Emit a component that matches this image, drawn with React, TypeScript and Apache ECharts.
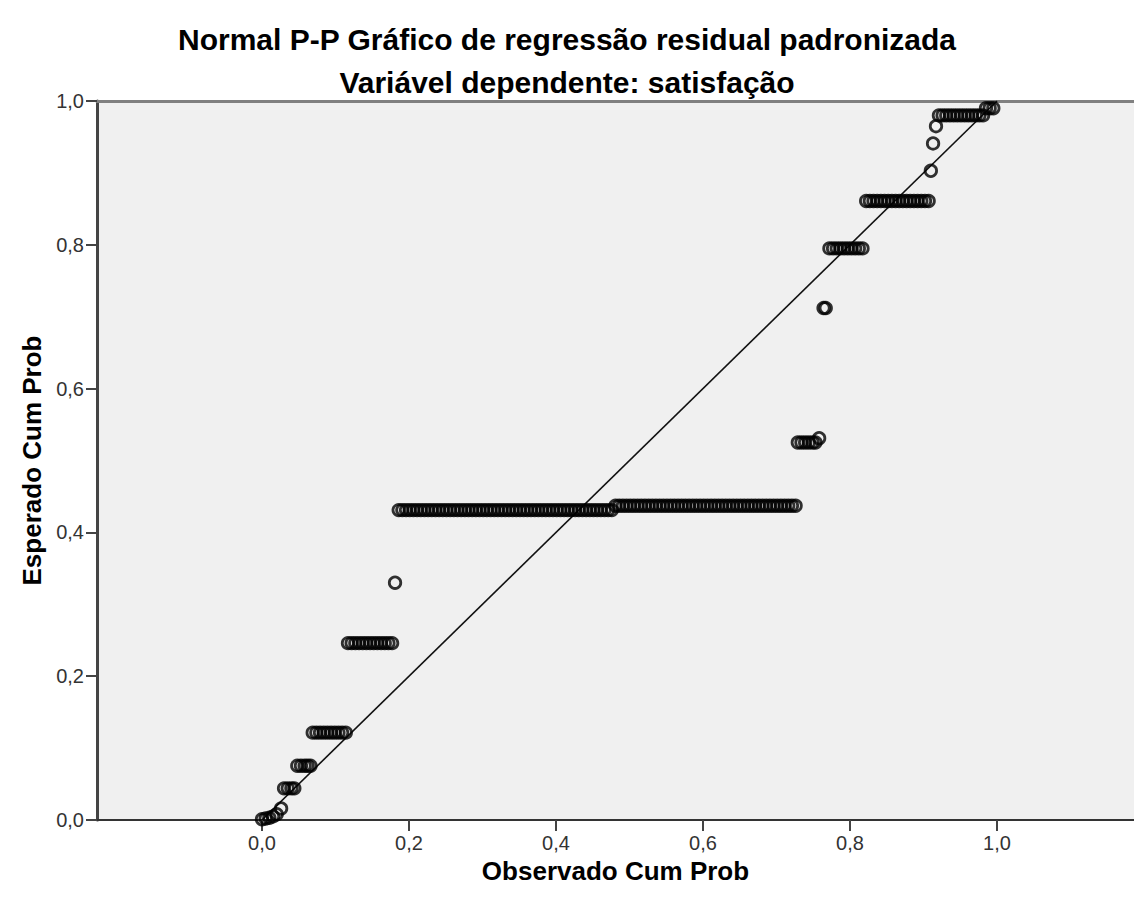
import React, { useEffect, useRef } from "react";
import * as echarts from "echarts";

const titleText = "Normal P-P Gráfico de regressão residual padronizada";
const subtitleText = "Variável dependente: satisfação";
const xAxisTitle = "Observado Cum Prob";
const yAxisTitle = "Esperado Cum Prob";
const tickValues = [0, 0.2, 0.4, 0.6, 0.8, 1.0];

// Points near the origin: observed (x) and expected (y) cumulative probability
const nearZeroObserved = [0.0, 0.005, 0.01, 0.015, 0.02, 0.026];
const nearZeroExpected = [0.001, 0.002, 0.003, 0.005, 0.008, 0.016];

// Runs of cases sharing one expected cumulative probability (y),
// each with the observed cumulative probabilities (x) of its cases
const runExpected = [
  0.044, 0.0755, 0.1215, 0.246, 0.33, 0.431, 0.437, 0.525, 0.531, 0.712,
  0.795, 0.861, 0.903, 0.941, 0.965, 0.98, 0.99,
];
const runObserved = [
  [0.03, 0.035, 0.04, 0.044],
  [0.048, 0.053, 0.058, 0.062, 0.066],
  [0.069, 0.074, 0.079, 0.084, 0.089, 0.094, 0.099, 0.104, 0.109, 0.114],
  [0.117, 0.122, 0.127, 0.132, 0.137, 0.142, 0.147, 0.152, 0.157, 0.162, 0.167, 0.172, 0.177],
  [0.181],
  [
    0.186, 0.191, 0.196, 0.201, 0.206, 0.211, 0.216, 0.221, 0.226, 0.231, 0.236, 0.241,
    0.246, 0.251, 0.256, 0.261, 0.266, 0.271, 0.276, 0.281, 0.286, 0.291, 0.296, 0.301,
    0.306, 0.311, 0.316, 0.321, 0.326, 0.331, 0.336, 0.341, 0.346, 0.351, 0.356, 0.361,
    0.366, 0.371, 0.376, 0.381, 0.386, 0.391, 0.396, 0.401, 0.406, 0.411, 0.416, 0.421,
    0.426, 0.431, 0.436, 0.441, 0.446, 0.451, 0.456, 0.461, 0.466, 0.471, 0.476,
  ],
  [
    0.481, 0.486, 0.491, 0.496, 0.501, 0.506, 0.511, 0.516, 0.521, 0.526, 0.531, 0.536,
    0.541, 0.546, 0.551, 0.556, 0.561, 0.566, 0.571, 0.576, 0.581, 0.586, 0.591, 0.596,
    0.601, 0.606, 0.611, 0.616, 0.621, 0.626, 0.631, 0.636, 0.641, 0.646, 0.651, 0.656,
    0.661, 0.666, 0.671, 0.676, 0.681, 0.686, 0.691, 0.696, 0.701, 0.706, 0.711, 0.716,
    0.721, 0.726,
  ],
  [0.729, 0.734, 0.739, 0.744, 0.749, 0.753],
  [0.758],
  [0.764, 0.767],
  [0.772, 0.777, 0.782, 0.787, 0.792, 0.797, 0.802, 0.807, 0.812, 0.817],
  [
    0.822, 0.827, 0.832, 0.837, 0.842, 0.847, 0.852, 0.857, 0.862, 0.867, 0.872, 0.877,
    0.882, 0.887, 0.892, 0.897, 0.902, 0.907,
  ],
  [0.91],
  [0.913],
  [0.917],
  [0.921, 0.926, 0.931, 0.936, 0.941, 0.946, 0.951, 0.956, 0.961, 0.966, 0.971, 0.976, 0.981],
  [0.985, 0.99, 0.995],
];

const diagonal = [
  [0, 0],
  [1, 1],
];

const fmt = (v: number) => v.toFixed(1).replace(".", ",");
const FONT = "'Liberation Sans', Arial, sans-serif";

export default function App() {
  const ref = useRef<HTMLDivElement>(null);
  useEffect(() => {
    if (!ref.current) return;
    const chart = echarts.init(ref.current, undefined, { renderer: "svg" });
    const points: number[][] = nearZeroObserved.map((x, i) => [x, nearZeroExpected[i]]);
    runObserved.forEach((xs, r) => xs.forEach((x) => points.push([x, runExpected[r]])));
    chart.setOption({
      animation: false,
      backgroundColor: "#ffffff",
      textStyle: { fontFamily: FONT },
      title: [
        {
          text: titleText,
          left: "center",
          top: 19,
          textStyle: { fontFamily: FONT, fontSize: 30, fontWeight: "bold", color: "#000" },
        },
        {
          text: subtitleText,
          left: "center",
          top: 62,
          textStyle: { fontFamily: FONT, fontSize: 30, fontWeight: "bold", color: "#000" },
        },
      ],
      grid: {
        left: 97,
        right: 0,
        top: 101,
        bottom: 85,
        show: true,
        backgroundColor: "#f0f0f0",
        borderWidth: 0,
      },
      xAxis: [
        {
          type: "value",
          min: -0.22449,
          max: 1.18639,
          position: "bottom",
          name: xAxisTitle,
          nameLocation: "middle",
          nameGap: 19,
          nameTextStyle: { fontFamily: FONT, fontSize: 26, fontWeight: "bold", color: "#000" },
          axisLine: { show: true, onZero: false, lineStyle: { color: "#333", width: 2 } },
          axisTick: {
            show: true,
            length: 11,
            customValues: tickValues,
            lineStyle: { color: "#444", width: 2 },
          },
          axisLabel: {
            show: true,
            customValues: tickValues,
            formatter: (v: number) => fmt(v),
            margin: 13,
            fontFamily: FONT,
            fontSize: 20,
            color: "#333",
          },
          splitLine: { show: false },
        },
        {
          type: "value",
          min: -0.22449,
          max: 1.18639,
          position: "top",
          axisLine: { show: true, onZero: false, lineStyle: { color: "#808080", width: 3 } },
          axisTick: { show: false },
          axisLabel: { show: false },
          splitLine: { show: false },
        },
      ],
      yAxis: {
        type: "value",
        min: 0,
        max: 1,
        interval: 0.2,
        name: yAxisTitle,
        nameLocation: "middle",
        nameGap: 50,
        nameRotate: 90,
        nameTextStyle: { fontFamily: FONT, fontSize: 26, fontWeight: "bold", color: "#000" },
        axisLine: { show: true, onZero: false, lineStyle: { color: "#444", width: 3 } },
        axisTick: { show: true, length: 11, lineStyle: { color: "#444", width: 2 } },
        axisLabel: {
          formatter: (v: number) => fmt(v),
          margin: 13,
          fontFamily: FONT,
          fontSize: 20,
          color: "#333",
        },
        splitLine: { show: false },
      },
      series: [
        {
          type: "line",
          data: diagonal,
          symbol: "none",
          lineStyle: { color: "#111", width: 1.6 },
          z: 2,
        },
        {
          type: "scatter",
          data: points,
          symbol: "circle",
          symbolSize: 11.5,
          itemStyle: { color: "rgba(0,0,0,0)", borderColor: "#000", borderWidth: 2.8 },
          z: 3,
        },
      ],
    });
    return () => chart.dispose();
  }, []);
  return (
    <div
      ref={ref}
      style={{ position: "absolute", left: 0, top: 0, width: 1134, height: 905 }}
    />
  );
}
